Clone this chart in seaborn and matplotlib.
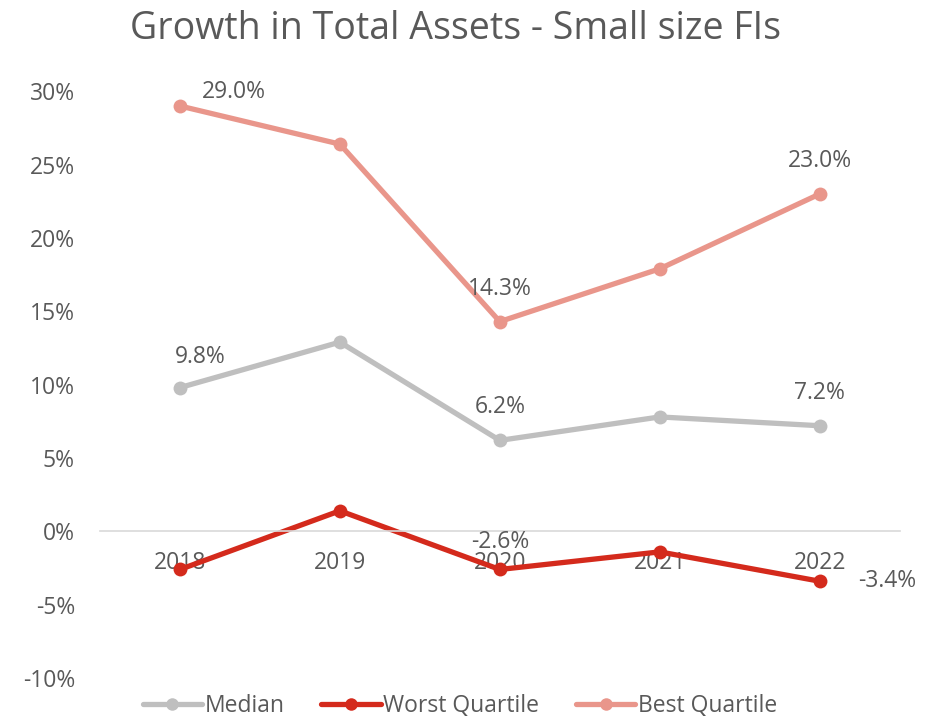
import pandas as pd
import seaborn as sns
import matplotlib.pyplot as plt
from matplotlib.ticker import FuncFormatter

years = ["2018", "2019", "2020", "2021", "2022"]
median = [9.8, 12.9, 6.2, 7.8, 7.2]
worst = [-2.6, 1.4, -2.6, -1.4, -3.4]
best = [29.0, 26.4, 14.3, 17.9, 23.0]
series_names = ["Median", "Worst Quartile", "Best Quartile"]
colors = ["#BFBFBF", "#D42A1C", "#E9968B"]

# labels shown on the chart: (series, year index, text, dx px, dy px)
labels = [
    ("Best Quartile", 0, "29.0%", 54, 14),
    ("Best Quartile", 2, "14.3%", 0, 33),
    ("Best Quartile", 4, "23.0%", 0, 33),
    ("Median", 0, "9.8%", 20, 31),
    ("Median", 2, "6.2%", 0, 33),
    ("Median", 4, "7.2%", 0, 33),
    ("Worst Quartile", 2, "-2.6%", 0, 27),
    ("Worst Quartile", 4, "-3.4%", 68, 0),
]

sns.set_theme(style="white")
plt.rcParams["font.family"] = ["Open Sans", "DejaVu Sans"]
text_color = "#595959"
fs = 16.5

df = pd.DataFrame({
    "Year": years * 3,
    "Value": median + worst + best,
    "Series": [s for s in series_names for _ in years],
})

fig = plt.figure(figsize=(9.43, 7.19), dpi=100)
ax = fig.add_axes([0.106, 0.057, 0.848, 0.816])

sns.lineplot(data=df, x="Year", y="Value", hue="Series", hue_order=series_names,
             palette=colors, marker="o", markersize=10, markeredgewidth=0,
             linewidth=3.8, sort=False, ax=ax)

ax.set_xlim(-0.5, 4.5)
ax.set_ylim(-10, 30)
ax.set_yticks(range(-10, 31, 5))
ax.yaxis.set_major_formatter(FuncFormatter(lambda v, p: f"{v:.0f}%"))
ax.set_xlabel("")
ax.set_ylabel("")

for s in ["top", "right", "left"]:
    ax.spines[s].set_visible(False)
ax.spines["bottom"].set_position(("data", 0))
ax.spines["bottom"].set_color("#D9D9D9")
ax.spines["bottom"].set_linewidth(1.2)
ax.tick_params(axis="x", length=0, pad=14, labelsize=fs, labelcolor=text_color)
ax.tick_params(axis="y", length=0, pad=18, labelsize=fs, labelcolor=text_color)
for lab in ax.get_xticklabels():
    lab.set_zorder(1)

lookup = {"Median": median, "Worst Quartile": worst, "Best Quartile": best}
for name, i, txt, dx, dy in labels:
    ax.annotate(txt, (i, lookup[name][i]), xytext=(dx * 0.72, dy * 0.72),
                textcoords="offset points", ha="center", va="center",
                fontsize=fs, color=text_color)

ax.set_title("Growth in Total Assets - Small size FIs", fontsize=27,
             color=text_color, pad=38, x=0.445)

leg = ax.legend(loc="upper center", bbox_to_anchor=(0.45, 0.0), ncol=3,
                frameon=False, fontsize=fs, handlelength=2.6,
                handletextpad=0.1, columnspacing=1.6, markerscale=0.9,
                borderpad=0.2)
for t in leg.get_texts():
    t.set_color(text_color)

fig.savefig("out.png", dpi=100)
